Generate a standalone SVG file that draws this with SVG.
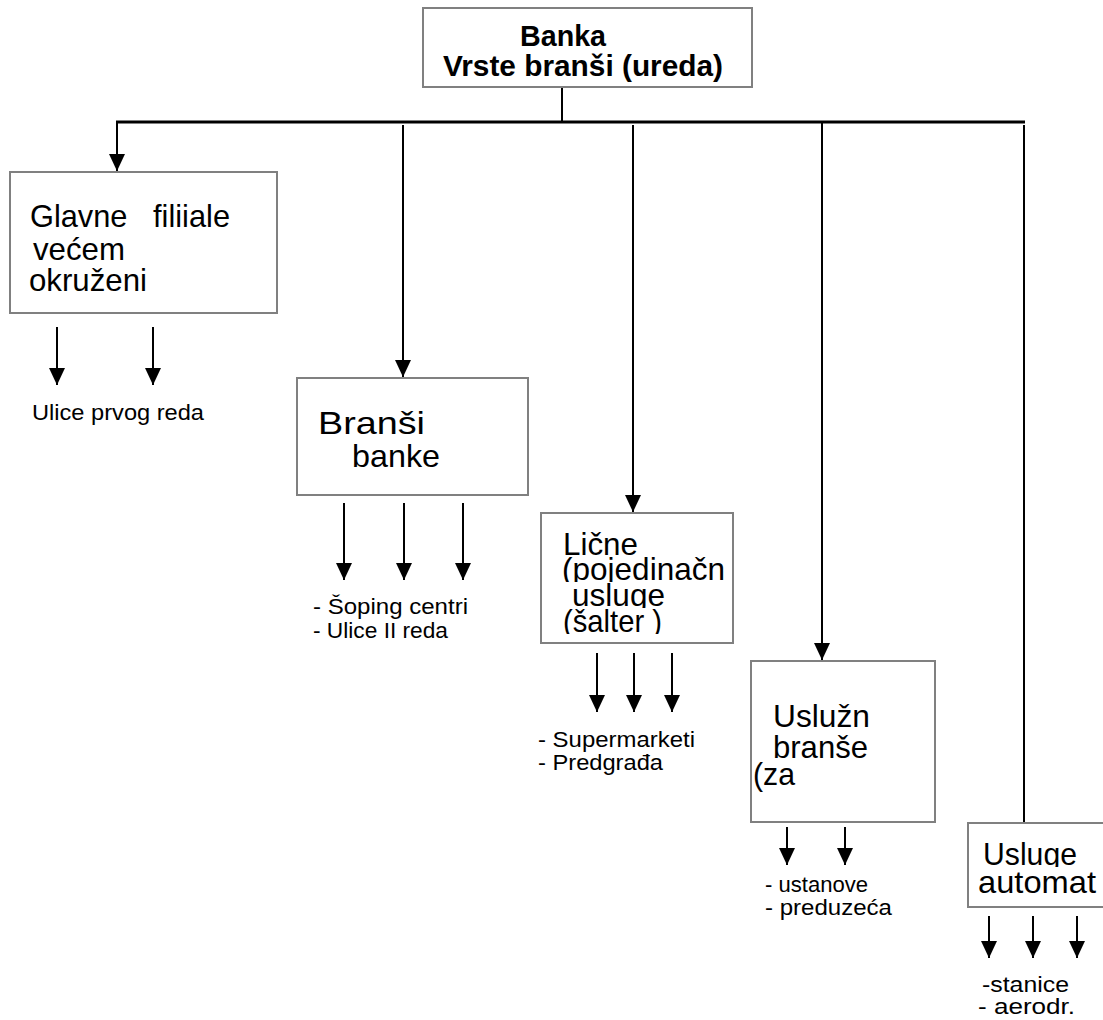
<svg xmlns="http://www.w3.org/2000/svg" width="1103" height="1020" viewBox="0 0 1103 1020">
<style>
.box{fill:#fff;stroke:#808080;stroke-width:2}
.ln{stroke:#000;stroke-width:2;fill:none}
.t{font-family:"Liberation Sans",Arial,sans-serif;font-size:30.5px;fill:#000}
.tb{font-family:"Liberation Sans",Arial,sans-serif;font-size:29px;font-weight:bold;fill:#000}
.lb{font-family:"Liberation Sans",Arial,sans-serif;font-size:22px;fill:#000}
</style>
<defs>
<marker id="ah" markerWidth="17" markerHeight="16" refX="17" refY="8" orient="auto" markerUnits="userSpaceOnUse" viewBox="0 0 17 16"><path d="M0,0 L17,8 L0,16 z" fill="#000"/></marker>
<clipPath id="c3a"><rect x="540" y="500" width="192" height="82"/></clipPath>
<clipPath id="c3b"><rect x="540" y="582" width="192" height="26"/></clipPath>
<clipPath id="c3c"><rect x="540" y="608" width="192" height="26"/></clipPath>
<clipPath id="c5"><rect x="968" y="823" width="135" height="44"/></clipPath>
</defs>
<g id="connectors">
<line class="ln" x1="562" y1="87" x2="562" y2="122"/>
<line class="ln" x1="116" y1="122" x2="1025" y2="122" style="stroke-width:3"/>
<line class="ln" x1="117" y1="122" x2="117" y2="171" marker-end="url(#ah)"/>
<line class="ln" x1="403" y1="125" x2="403" y2="377" marker-end="url(#ah)"/>
<line class="ln" x1="633" y1="125" x2="633" y2="512" marker-end="url(#ah)"/>
<line class="ln" x1="822" y1="122" x2="822" y2="660" marker-end="url(#ah)"/>
<line class="ln" x1="1024" y1="125" x2="1024" y2="823"/>
<line class="ln" x1="57" y1="327" x2="57" y2="385" marker-end="url(#ah)"/>
<line class="ln" x1="153" y1="327" x2="153" y2="385" marker-end="url(#ah)"/>
<line class="ln" x1="344" y1="503" x2="344" y2="580" marker-end="url(#ah)"/>
<line class="ln" x1="404" y1="503" x2="404" y2="580" marker-end="url(#ah)"/>
<line class="ln" x1="463" y1="503" x2="463" y2="580" marker-end="url(#ah)"/>
<line class="ln" x1="597" y1="653" x2="597" y2="712" marker-end="url(#ah)"/>
<line class="ln" x1="634" y1="653" x2="634" y2="712" marker-end="url(#ah)"/>
<line class="ln" x1="672" y1="653" x2="672" y2="712" marker-end="url(#ah)"/>
<line class="ln" x1="787" y1="827" x2="787" y2="865" marker-end="url(#ah)"/>
<line class="ln" x1="845" y1="827" x2="845" y2="865" marker-end="url(#ah)"/>
<line class="ln" x1="989" y1="916" x2="989" y2="958" marker-end="url(#ah)"/>
<line class="ln" x1="1033" y1="916" x2="1033" y2="958" marker-end="url(#ah)"/>
<line class="ln" x1="1077" y1="916" x2="1077" y2="958" marker-end="url(#ah)"/>
</g>
<g id="banka">
<rect class="box" x="423" y="8" width="329" height="79"/>
<text class="tb" x="520" y="46" textLength="86" lengthAdjust="spacingAndGlyphs">Banka</text>
<text class="tb" x="443" y="76" textLength="280" lengthAdjust="spacingAndGlyphs">Vrste branši (ureda)</text>
</g>
<g id="glavne">
<rect class="box" x="10" y="172" width="267" height="141"/>
<text class="t" x="30" y="227" xml:space="preserve" textLength="200" lengthAdjust="spacingAndGlyphs">Glavne   filiiale</text>
<text class="t" x="33" y="260" textLength="92" lengthAdjust="spacingAndGlyphs">većem</text>
<text class="t" x="29" y="291" textLength="118" lengthAdjust="spacingAndGlyphs">okruženi</text>
</g>
<g id="glavne-label">
<text class="lb" x="32" y="420" textLength="172" lengthAdjust="spacingAndGlyphs">Ulice prvog reda</text>
</g>
<g id="bransni">
<rect class="box" x="297" y="378" width="231" height="117"/>
<text class="t" x="318" y="434" textLength="107" lengthAdjust="spacingAndGlyphs">Branši</text>
<text class="t" x="352" y="467" textLength="88" lengthAdjust="spacingAndGlyphs">banke</text>
</g>
<g id="bransni-label">
<text class="lb" x="313" y="614" textLength="155" lengthAdjust="spacingAndGlyphs">- Šoping centri</text>
<text class="lb" x="313" y="638" textLength="135" lengthAdjust="spacingAndGlyphs">- Ulice II reda</text>
</g>
<g id="licne">
<rect class="box" x="541" y="513" width="192" height="130"/>
<text class="t" x="563" y="555" clip-path="url(#c3a)" textLength="75" lengthAdjust="spacingAndGlyphs">Lične</text>
<text class="t" x="562" y="580" clip-path="url(#c3a)" textLength="163" lengthAdjust="spacingAndGlyphs">(pojedinačn</text>
<text class="t" x="572" y="606" clip-path="url(#c3b)" textLength="93" lengthAdjust="spacingAndGlyphs">usluge</text>
<text class="t" x="563" y="632" clip-path="url(#c3c)" xml:space="preserve" textLength="99" lengthAdjust="spacingAndGlyphs">(šalter )</text>
</g>
<g id="licne-label">
<text class="lb" x="538" y="747" textLength="157" lengthAdjust="spacingAndGlyphs">- Supermarketi</text>
<text class="lb" x="538" y="770" textLength="125" lengthAdjust="spacingAndGlyphs">- Predgrađa</text>
</g>
<g id="usluzne">
<rect class="box" x="751" y="661" width="184" height="161"/>
<text class="t" x="773" y="727" textLength="97" lengthAdjust="spacingAndGlyphs">Uslužn</text>
<text class="t" x="773" y="758" textLength="95" lengthAdjust="spacingAndGlyphs">branše</text>
<text class="t" x="753" y="785" textLength="42" lengthAdjust="spacingAndGlyphs">(za</text>
</g>
<g id="usluzne-label">
<text class="lb" x="765" y="892" textLength="103" lengthAdjust="spacingAndGlyphs">- ustanove</text>
<text class="lb" x="765" y="915" textLength="127" lengthAdjust="spacingAndGlyphs">- preduzeća</text>
</g>
<g id="automat">
<rect class="box" x="968" y="823" width="145" height="84"/>
<text class="t" x="983" y="865" clip-path="url(#c5)" textLength="94" lengthAdjust="spacingAndGlyphs">Usluge</text>
<text class="t" x="978" y="893" textLength="118" lengthAdjust="spacingAndGlyphs">automat</text>
</g>
<g id="automat-label">
<text class="lb" x="982" y="992" textLength="87" lengthAdjust="spacingAndGlyphs">-stanice</text>
<text class="lb" x="978" y="1014" textLength="97" lengthAdjust="spacingAndGlyphs">- aerodr.</text>
</g>
</svg>
